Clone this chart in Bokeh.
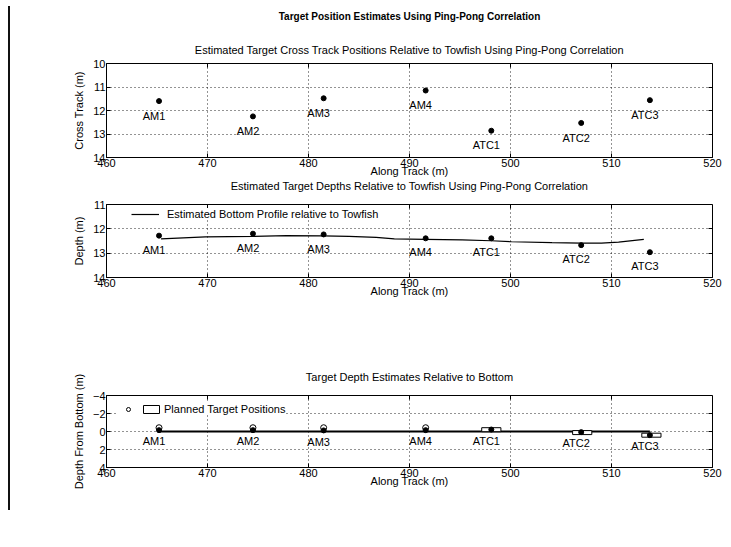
from bokeh.plotting import figure
from bokeh.models import Range1d, LinearAxis, Title, Legend, LegendItem, FixedTicker
from bokeh.layouts import column
from bokeh.embed import file_html
from bokeh.resources import INLINE
from bokeh.core.properties import value

FONT = "Liberation Sans"

# ---- data ----
names = ["AM1", "AM2", "AM3", "AM4", "ATC1", "ATC2", "ATC3"]
along = [465.2, 474.5, 481.5, 491.6, 498.1, 507.0, 513.8]
cross = [11.6, 12.25, 11.48, 11.15, 12.86, 12.53, 11.56]
depth = [12.28, 12.2, 12.23, 12.39, 12.39, 12.67, 12.96]

prof_x = [465.4, 469.8, 474.5, 477.8, 481.4, 484.0, 486.7, 488.5, 491.6,
          495.2, 498.1, 500.1, 504.1, 507.0, 509.0, 510.7, 513.2]
prof_y = [12.41, 12.33, 12.31, 12.28, 12.29, 12.31, 12.35, 12.41, 12.43,
          12.45, 12.49, 12.53, 12.57, 12.59, 12.59, 12.55, 12.43]

rel = [-0.15, -0.15, -0.12, -0.15, -0.22, 0.07, 0.41]
bottom_x = [465.2, 513.8]
bottom_y = [0.0, 0.0]
sphere_x = [465.2, 474.5, 481.5, 491.6]
sphere_planned = [-0.42, -0.42, -0.42, -0.42]
cyl_x = [498.1, 507.1, 513.95]
cyl_planned = [-0.2, 0.12, 0.41]

x_ticks = [460, 470, 480, 490, 500, 510, 520]
cross_ticks = [10, 11, 12, 13, 14]
depth_ticks = [11, 12, 13, 14]
rel_ticks = [-4, -2, 0, 2, 4]

main_title = "Target Position Estimates Using Ping-Pong Correlation"
title1 = "Estimated Target Cross Track Positions Relative to Towfish Using Ping-Pong Correlation"
title2 = "Estimated Target Depths Relative to Towfish Using Ping-Pong Correlation"
title3 = "Target Depth Estimates Relative to Bottom"


def make_panel(height, btop, bbot, y_top, y_bot, y_ticks, y_label):
    p = figure(width=731, height=height,
               x_range=Range1d(460, 520), y_range=Range1d(y_bot, y_top),
               output_backend="svg", toolbar_location=None, tools="",
               min_border_left=106, min_border_right=19,
               min_border_top=btop, min_border_bottom=bbot)
    p.outline_line_color = "black"
    p.outline_line_width = 1
    p.outline_line_alpha = 1
    p.background_fill_color = "white"
    p.border_fill_color = "white"
    p.xaxis.ticker = FixedTicker(ticks=x_ticks)
    p.yaxis.ticker = FixedTicker(ticks=y_ticks)
    p.xaxis.axis_label = "Along Track (m)"
    p.yaxis.axis_label = y_label
    for ax in p.xaxis + p.yaxis:
        ax.major_tick_in = 4
        ax.major_tick_out = 0
        ax.minor_tick_line_color = None
        ax.axis_line_color = "black"
        ax.major_tick_line_color = "black"
        ax.major_label_text_font = FONT
        ax.major_label_text_font_size = "11px"
        ax.major_label_text_color = "black"
        ax.major_label_standoff = 1
        ax.axis_label_text_font = FONT
        ax.axis_label_text_font_size = "11px"
        ax.axis_label_text_font_style = "normal"
        ax.axis_label_text_color = "black"
    p.xaxis.axis_label_standoff = -5
    p.yaxis.axis_label_standoff = 5
    # mirrored inward ticks on the top and right edges (drawn on the frame edge)
    top_ax = LinearAxis(ticker=FixedTicker(ticks=x_ticks), fixed_location=y_top,
                        major_label_overrides={t: "" for t in x_ticks},
                        major_label_text_font_size="1px", major_label_standoff=0,
                        major_tick_in=4, major_tick_out=0,
                        minor_tick_line_color=None, axis_line_color=None)
    p.add_layout(top_ax, "above")
    right_ax = LinearAxis(ticker=FixedTicker(ticks=y_ticks), fixed_location=520,
                          major_label_overrides={t: "" for t in y_ticks},
                          major_label_text_font_size="1px", major_label_standoff=0,
                          major_tick_in=4, major_tick_out=0,
                          minor_tick_line_color=None, axis_line_color=None)
    p.add_layout(right_ax, "right")
    p.grid.grid_line_color = "black"
    p.grid.grid_line_dash = "1 3"
    p.grid.grid_line_width = 1
    p.grid.grid_line_alpha = 0.85
    return p


def panel_title(text, standoff, valign="bottom", size="11px", style="normal"):
    return Title(text=text, align="center", vertical_align=valign,
                 text_font=FONT, text_font_size=size, text_font_style=style,
                 text_color="black", standoff=standoff)


def label_glyphs(p, xs, ys, shift):
    p.text(x=xs, y=[v + shift for v in ys], text=names,
           text_align="center", text_baseline="middle",
           text_font=value(FONT), text_font_size="11px",
           text_color="black", x_offset=-5)


# ---- panel 1 ----
p1 = make_panel(193, 63, 36, 10, 14, cross_ticks, "Cross Track (m)")
p1.add_layout(panel_title(title1, 16), "above")
p1.title.text = main_title
p1.title.align = "center"
p1.title.vertical_align = "top"
p1.title.text_font = FONT
p1.title.text_font_size = "10px"
p1.title.text_font_style = "bold"
p1.title.text_color = "black"
p1.title.standoff = 19
p1.title.offset = -43
# title of the middle panel sits in the gap under the first panel's axis
p1.add_layout(panel_title(title2, 0, valign="top"), "below")
p1.scatter(along, cross, size=5, color="black")
label_glyphs(p1, along, cross, 0.62)

# ---- panel 2 ----
p2 = make_panel(106, 11, 22, 11, 14, depth_ticks, "Depth (m)")
p2.title.text = ""
r_prof = p2.line(prof_x, prof_y, color="black", line_width=1.2)
p2.scatter(along, depth, size=5, color="black")
label_glyphs(p2, along, depth, 0.58)
leg2 = Legend(items=[LegendItem(label="Estimated Bottom Profile relative to Towfish", renderers=[r_prof])],
              location=(25, 57), glyph_width=28, glyph_height=12, label_height=12,
              padding=2, margin=0, label_standoff=8, spacing=0,
              label_text_font=FONT, label_text_font_size="11px", label_text_color="black",
              border_line_color=None, background_fill_color="white", background_fill_alpha=1)
p2.add_layout(leg2)

# ---- panel 3 ----
p3 = make_panel(248, 96, 80, -4, 4, rel_ticks, "Depth From Bottom (m)")
p3.title.text = title3
p3.title.align = "center"
p3.title.text_font = FONT
p3.title.text_font_size = "11px"
p3.title.text_font_style = "normal"
p3.title.text_color = "black"
p3.title.standoff = 26
p3.line(bottom_x, bottom_y, color="black", line_width=1.8)
r_circ = p3.scatter(sphere_x, sphere_planned, marker="circle", size=6,
                    fill_color="white", line_color="black", line_width=1)
r_rect = p3.rect(cyl_x, cyl_planned, width=1.9, height=4, height_units="screen",
                 fill_color="white", line_color="black", line_width=1)
p3.scatter(along, rel, size=5, color="black")
label_glyphs(p3, along, rel, 1.25)
leg3 = Legend(items=[LegendItem(label=" ", renderers=[r_circ]),
                     LegendItem(label="Planned Target Positions", renderers=[r_rect])],
              orientation="horizontal", location=(12, 52),
              glyph_width=20, glyph_height=10, label_height=12, label_width=0,
              padding=2, margin=0, label_standoff=3, spacing=0,
              label_text_font=FONT, label_text_font_size="11px", label_text_color="black",
              border_line_color=None, background_fill_color="white", background_fill_alpha=1)
p3.add_layout(leg3)

page_edge = (":host { position: relative; } "
             ":host::after { content: ''; position: absolute; left: 8px; top: 6px; "
             "height: 504px; border-left: 2px solid #111; z-index: 10; pointer-events: none; }")

layout = column(p1, p2, p3, spacing=0, stylesheets=[page_edge])
open("out.html", "w").write(file_html(layout, INLINE))
